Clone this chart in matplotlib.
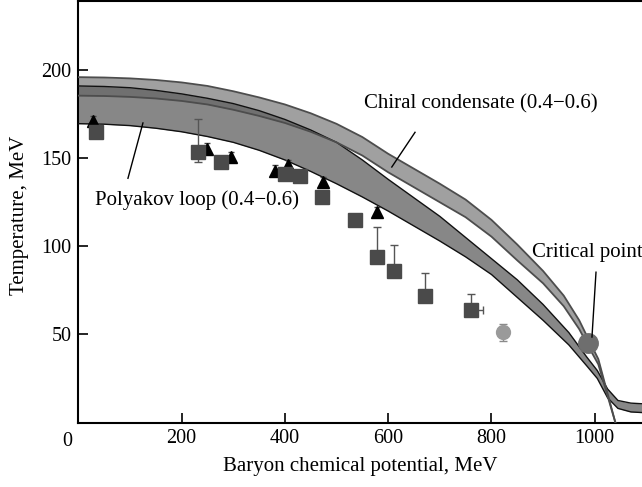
import numpy as np
import matplotlib
matplotlib.use("Agg")
import matplotlib.pyplot as plt

plt.rcParams['font.family'] = ['Liberation Serif', 'DejaVu Serif']

# Chiral condensate band (0.4-0.6)
mu_ch = [0, 50, 100, 150, 200, 250, 300, 350, 400, 450, 500, 550, 600, 650, 700,
         750, 800, 850, 900, 940, 970, 990, 1007, 1040]
ch_top = [196, 195.8, 195.3, 194.4, 193, 191, 188, 184.5, 180.5, 175.5, 169.5, 162,
          152.5, 144, 135.5, 126.5, 115, 101, 86, 72, 58, 46, 36, 0]
ch_bot = [185.5, 185.3, 184.8, 183.9, 182.5, 180.5, 177.5, 174, 170, 165, 159, 151.5,
          142, 133.5, 125, 116.5, 105.5, 92, 79, 66, 53, 42, 33, 0]

# Polyakov loop band (0.4-0.6)
mu_pl = [0, 50, 100, 150, 200, 250, 300, 350, 400, 450, 500, 550, 600, 650, 700, 750,
         800, 850, 900, 950, 985, 1005, 1025, 1045, 1070, 1100]
pl_top = [191, 190.7, 190, 188.5, 186.5, 184, 181, 177, 172, 166, 159, 149, 138, 127.5,
          117, 105, 93, 81, 67, 51, 37, 29.5, 19, 12.5, 11, 10.5]
pl_bot = [169.6, 169.3, 168.5, 167, 165, 162.3, 159, 154.5, 149, 142.5, 135.5, 128, 120,
          111.5, 103, 94, 84, 71, 58, 44, 32, 25, 14, 8, 6, 5.5]

# squares
sq_mu = [35, 232, 276, 400, 429, 472, 536, 578, 611, 671, 760]
sq_T = [165, 153.5, 147.7, 141.3, 139.7, 128, 114.8, 94, 86, 71.7, 63.8]
sq_err_lo = [2, 5.5, 0, 0, 0, 0, 3, 0, 0, 0, 0]
sq_err_hi = [2, 18.5, 0, 0, 0, 0, 3, 17, 15, 13.3, 9]
sq_xerr_hi = [0, 0, 0, 0, 0, 0, 0, 0, 0, 0, 24]

# triangles
tr_mu = [28, 249, 295, 381, 405, 474, 578]
tr_T = [171, 155.5, 150.7, 143, 146, 136.5, 119.5]

# light circle
ci_mu = [823]
ci_T = [51.1]
ci_err = [5]

# critical point
cp_mu = [987]
cp_T = [45]

fig = plt.figure(figsize=(6.42, 4.87), dpi=100)
ax = fig.add_axes([78.4 / 642, 1 - 422.5 / 487, 1 - 78.4 / 642, (422.5 - 0.5) / 487])
ax.set_xlim(0, 1091.6)
ax.set_ylim(0, 239.5)

# bands
ax.fill_between(mu_pl, pl_bot, pl_top, color='#878787', lw=0, zorder=1)
ax.fill_between(mu_ch, ch_bot, ch_top, color='#616161', alpha=0.6, lw=0, zorder=2)
ax.plot(mu_pl, pl_top, color='#111111', lw=1.0, zorder=3)
ax.plot(mu_pl, pl_bot, color='#111111', lw=1.0, zorder=3)
ax.plot(mu_ch, ch_top, color='#4d4d4d', lw=1.3, zorder=3)
ax.plot(mu_ch, ch_bot, color='#4d4d4d', lw=1.3, zorder=3)

# data points
ax.errorbar(tr_mu, tr_T, yerr=3, fmt='^', color='black', ms=8, ecolor='#444444',
            elinewidth=0.6, capsize=2, zorder=5)
ax.errorbar(sq_mu, sq_T, yerr=[sq_err_lo, sq_err_hi], xerr=[[0] * len(sq_mu), sq_xerr_hi],
            fmt='s', color='#4a4a4a', ms=9.5, ecolor='#555555', elinewidth=1.0,
            capsize=3, zorder=6)
ax.errorbar(ci_mu, ci_T, yerr=ci_err, fmt='o', color='#9a9a9a', ms=10, ecolor='#8a8a8a',
            elinewidth=1.0, capsize=3, zorder=6)
ax.plot(cp_mu, cp_T, 'o', color='#6e6e6e', ms=14, zorder=7)

# labels with leader lines
ax.text(780, 181, 'Chiral condensate (0.4\u22120.6)', ha='center', va='center', fontsize=15)
ax.plot([652, 607], [164.7, 145], color='black', lw=1.0, zorder=4)
ax.text(229, 126, 'Polyakov loop (0.4\u22120.6)', ha='center', va='center', fontsize=15)
ax.plot([96, 125], [138.6, 170], color='black', lw=1.0, zorder=4)
ax.text(879, 96.3, 'Critical point', ha='left', va='center', fontsize=15)
ax.plot([1002.5, 994.7], [85.3, 48.5], color='black', lw=1.0, zorder=8)

# axes styling
ax.spines['right'].set_visible(False)
for s in ['left', 'bottom', 'top']:
    ax.spines[s].set_linewidth(1.5)
ax.set_xticks([200, 400, 600, 800, 1000])
ax.set_yticks([50, 100, 150, 200])
ax.tick_params(direction='in', length=7, width=1.2, labelsize=14.5, pad=5)
ax.annotate('0', xy=(0, 0), xycoords='data', xytext=(-8.2, -6.5),
            textcoords='offset points', ha='center', va='top', fontsize=14.5)

fig.text(360 / 642, 1 - 467 / 487, 'Baryon chemical potential, MeV', ha='center',
         va='center', fontsize=15)
fig.text(20 / 642, 1 - 215 / 487, 'Temperature, MeV', ha='center', va='center',
         rotation=90, fontsize=15)

fig.savefig('out.png', dpi=100)
